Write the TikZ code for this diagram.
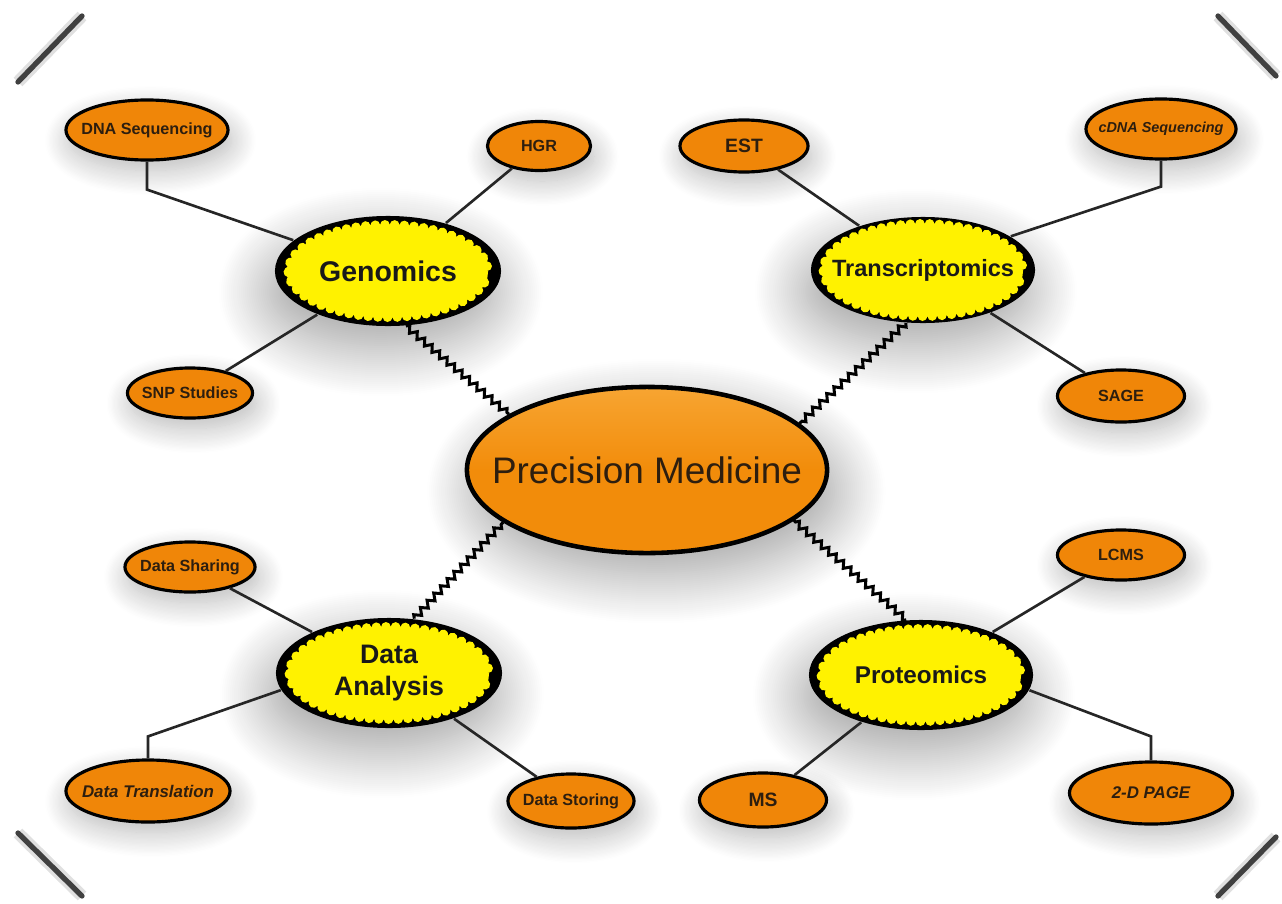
\documentclass[tikz,border=0pt]{standalone}
\usepackage{fontspec}
\setmainfont{Liberation Sans}
\usetikzlibrary{shapes.geometric, decorations.pathmorphing, shadows.blur}

\begin{document}
\begin{tikzpicture}[x=0.01cm, y=-0.01cm,
    leaf/.style={ellipse, draw=black, line width=0.9pt, fill=leaforange, inner xsep=-18pt, inner ysep=-3pt,
        text=textbrown, font=\bfseries\fontsize{4.6}{5.5}\selectfont,
        blur shadow={shadow blur radius=7pt, shadow blur steps=20, shadow xshift=1pt, shadow yshift=-3pt, shadow opacity=28}},
    hub/.style={ellipse, fill=black, inner xsep=-24pt, inner ysep=-4pt, align=center, text=black!90,
        minimum width=2.26cm, minimum height=1.1cm,
        blur shadow={shadow blur radius=14pt, shadow blur steps=25, shadow xshift=-2pt, shadow yshift=-6pt, shadow opacity=38},
        path picture={\fill[hubyellow, decorate, decoration={bumps, mirror, segment length=5.5pt, amplitude=1.4pt}]
            (path picture bounding box.center) ellipse [x radius=0.99cm, y radius=0.46cm];}},
    pmnode/.style={ellipse, draw=black, line width=1.3pt, inner xsep=-32pt, inner ysep=-3pt,
        top color=pmlight, bottom color=pmorange, middle color=pmorange,
        minimum width=3.6cm, minimum height=1.66cm, text=textbrown,
        font=\fontsize{10.5}{12}\selectfont,
        blur shadow={shadow blur radius=14pt, shadow blur steps=25, shadow yshift=-6pt, shadow opacity=38}},
    link/.style={line width=0.75pt, black!85},
    wiggle/.style={line width=0.85pt, decorate, decoration={zigzag, segment length=2.8pt, amplitude=0.9pt}},
    corner/.style={line width=1.5pt, line cap=round, black!75, preaction={draw=black!12, line width=3.5pt}},
]
    \definecolor{leaforange}{RGB}{240, 134, 8}
    \definecolor{pmorange}{RGB}{242, 140, 10}
    \definecolor{pmlight}{RGB}{247, 165, 50}
    \definecolor{hubyellow}{RGB}{255, 242, 0}
    \definecolor{textbrown}{RGB}{45, 30, 15}

    \useasboundingbox (0,0) rectangle (1282,903);

    % Corner marks
    \draw[corner] (18,82) -- (82,16);
    \draw[corner] (1218,16) -- (1276,76);
    \draw[corner] (18,833) -- (82,896);
    \draw[corner] (1218,896) -- (1276,837);

    % Centre
    \node[pmnode] (pm) at (647,470) {Precision Medicine};

    % Hubs
    \node[hub, font=\bfseries\fontsize{8.1}{9.5}\selectfont] (gen) at (388,271) {Genomics};
    \node[hub, minimum width=2.24cm, minimum height=1.06cm, font=\bfseries\fontsize{6.7}{8}\selectfont] (trans) at (923,270) {Transcriptomics};
    \node[hub, font=\bfseries\fontsize{7.6}{9}\selectfont] (da) at (389,673) {Data\\Analysis};
    \node[hub, minimum width=2.24cm, font=\bfseries\fontsize{6.9}{8}\selectfont] (pro) at (921,675) {Proteomics};

    % Leaves
    \node[leaf, minimum width=1.62cm, minimum height=0.6cm] (dna) at (147,130) {DNA Sequencing};
    \node[leaf, minimum width=1.03cm, minimum height=0.49cm] (hgr) at (539,146) {HGR};
    \node[leaf, minimum width=1.25cm, minimum height=0.5cm] (snp) at (190,393) {SNP Studies};
    \node[leaf, minimum width=1.28cm, minimum height=0.52cm, font=\bfseries\fontsize{5.5}{6}\selectfont] (est) at (744,146) {EST};
    \node[leaf, minimum width=1.5cm, minimum height=0.6cm, font=\bfseries\itshape\fontsize{4.1}{5}\selectfont] (cdna) at (1161,129) {cDNA Sequencing};
    \node[leaf, minimum width=1.27cm, minimum height=0.52cm] (sage) at (1121,396) {SAGE};
    \node[leaf, minimum width=1.3cm, minimum height=0.5cm] (dshare) at (190,567) {Data Sharing};
    \node[leaf, minimum width=1.64cm, minimum height=0.62cm, font=\bfseries\itshape\fontsize{4.8}{5.5}\selectfont] (dtrans) at (148,791) {Data Translation};
    \node[leaf, minimum width=1.26cm, minimum height=0.54cm] (dstore) at (571,801) {Data Storing};
    \node[leaf, minimum width=1.27cm, minimum height=0.5cm] (lcms) at (1121,555) {LCMS};
    \node[leaf, minimum width=1.27cm, minimum height=0.54cm, font=\bfseries\fontsize{5.5}{6}\selectfont] (ms) at (763,800) {MS};
    \node[leaf, minimum width=1.63cm, minimum height=0.62cm, font=\bfseries\itshape\fontsize{4.8}{5.5}\selectfont] (page) at (1151,793) {2-D PAGE};

    % Hub to centre
    \draw[wiggle] (gen.-72) -- (pm.158);
    \draw[wiggle] (trans.252) -- (pm.17);
    \draw[wiggle] (da.65) -- (pm.200);
    \draw[wiggle] (pro.105) -- (pm.-19);

    % Hub to leaves
    \draw[link] (dna.south) -- ++(0,28) -- (gen.162);
    \draw[link] (gen) -- (hgr);
    \draw[link] (gen) -- (snp);
    \draw[link] (trans) -- (est);
    \draw[link] (cdna.south) -- ++(0,26) -- (trans.21);
    \draw[link] (trans) -- (sage);
    \draw[link] (da) -- (dshare);
    \draw[link] (dtrans.north) -- ++(0,-22) -- (da.189);
    \draw[link] (da) -- (dstore);
    \draw[link] (pro) -- (lcms);
    \draw[link] (pro) -- (ms);
    \draw[link] (page.north) -- ++(0,-24) -- (pro.-8);
\end{tikzpicture}
\end{document}
